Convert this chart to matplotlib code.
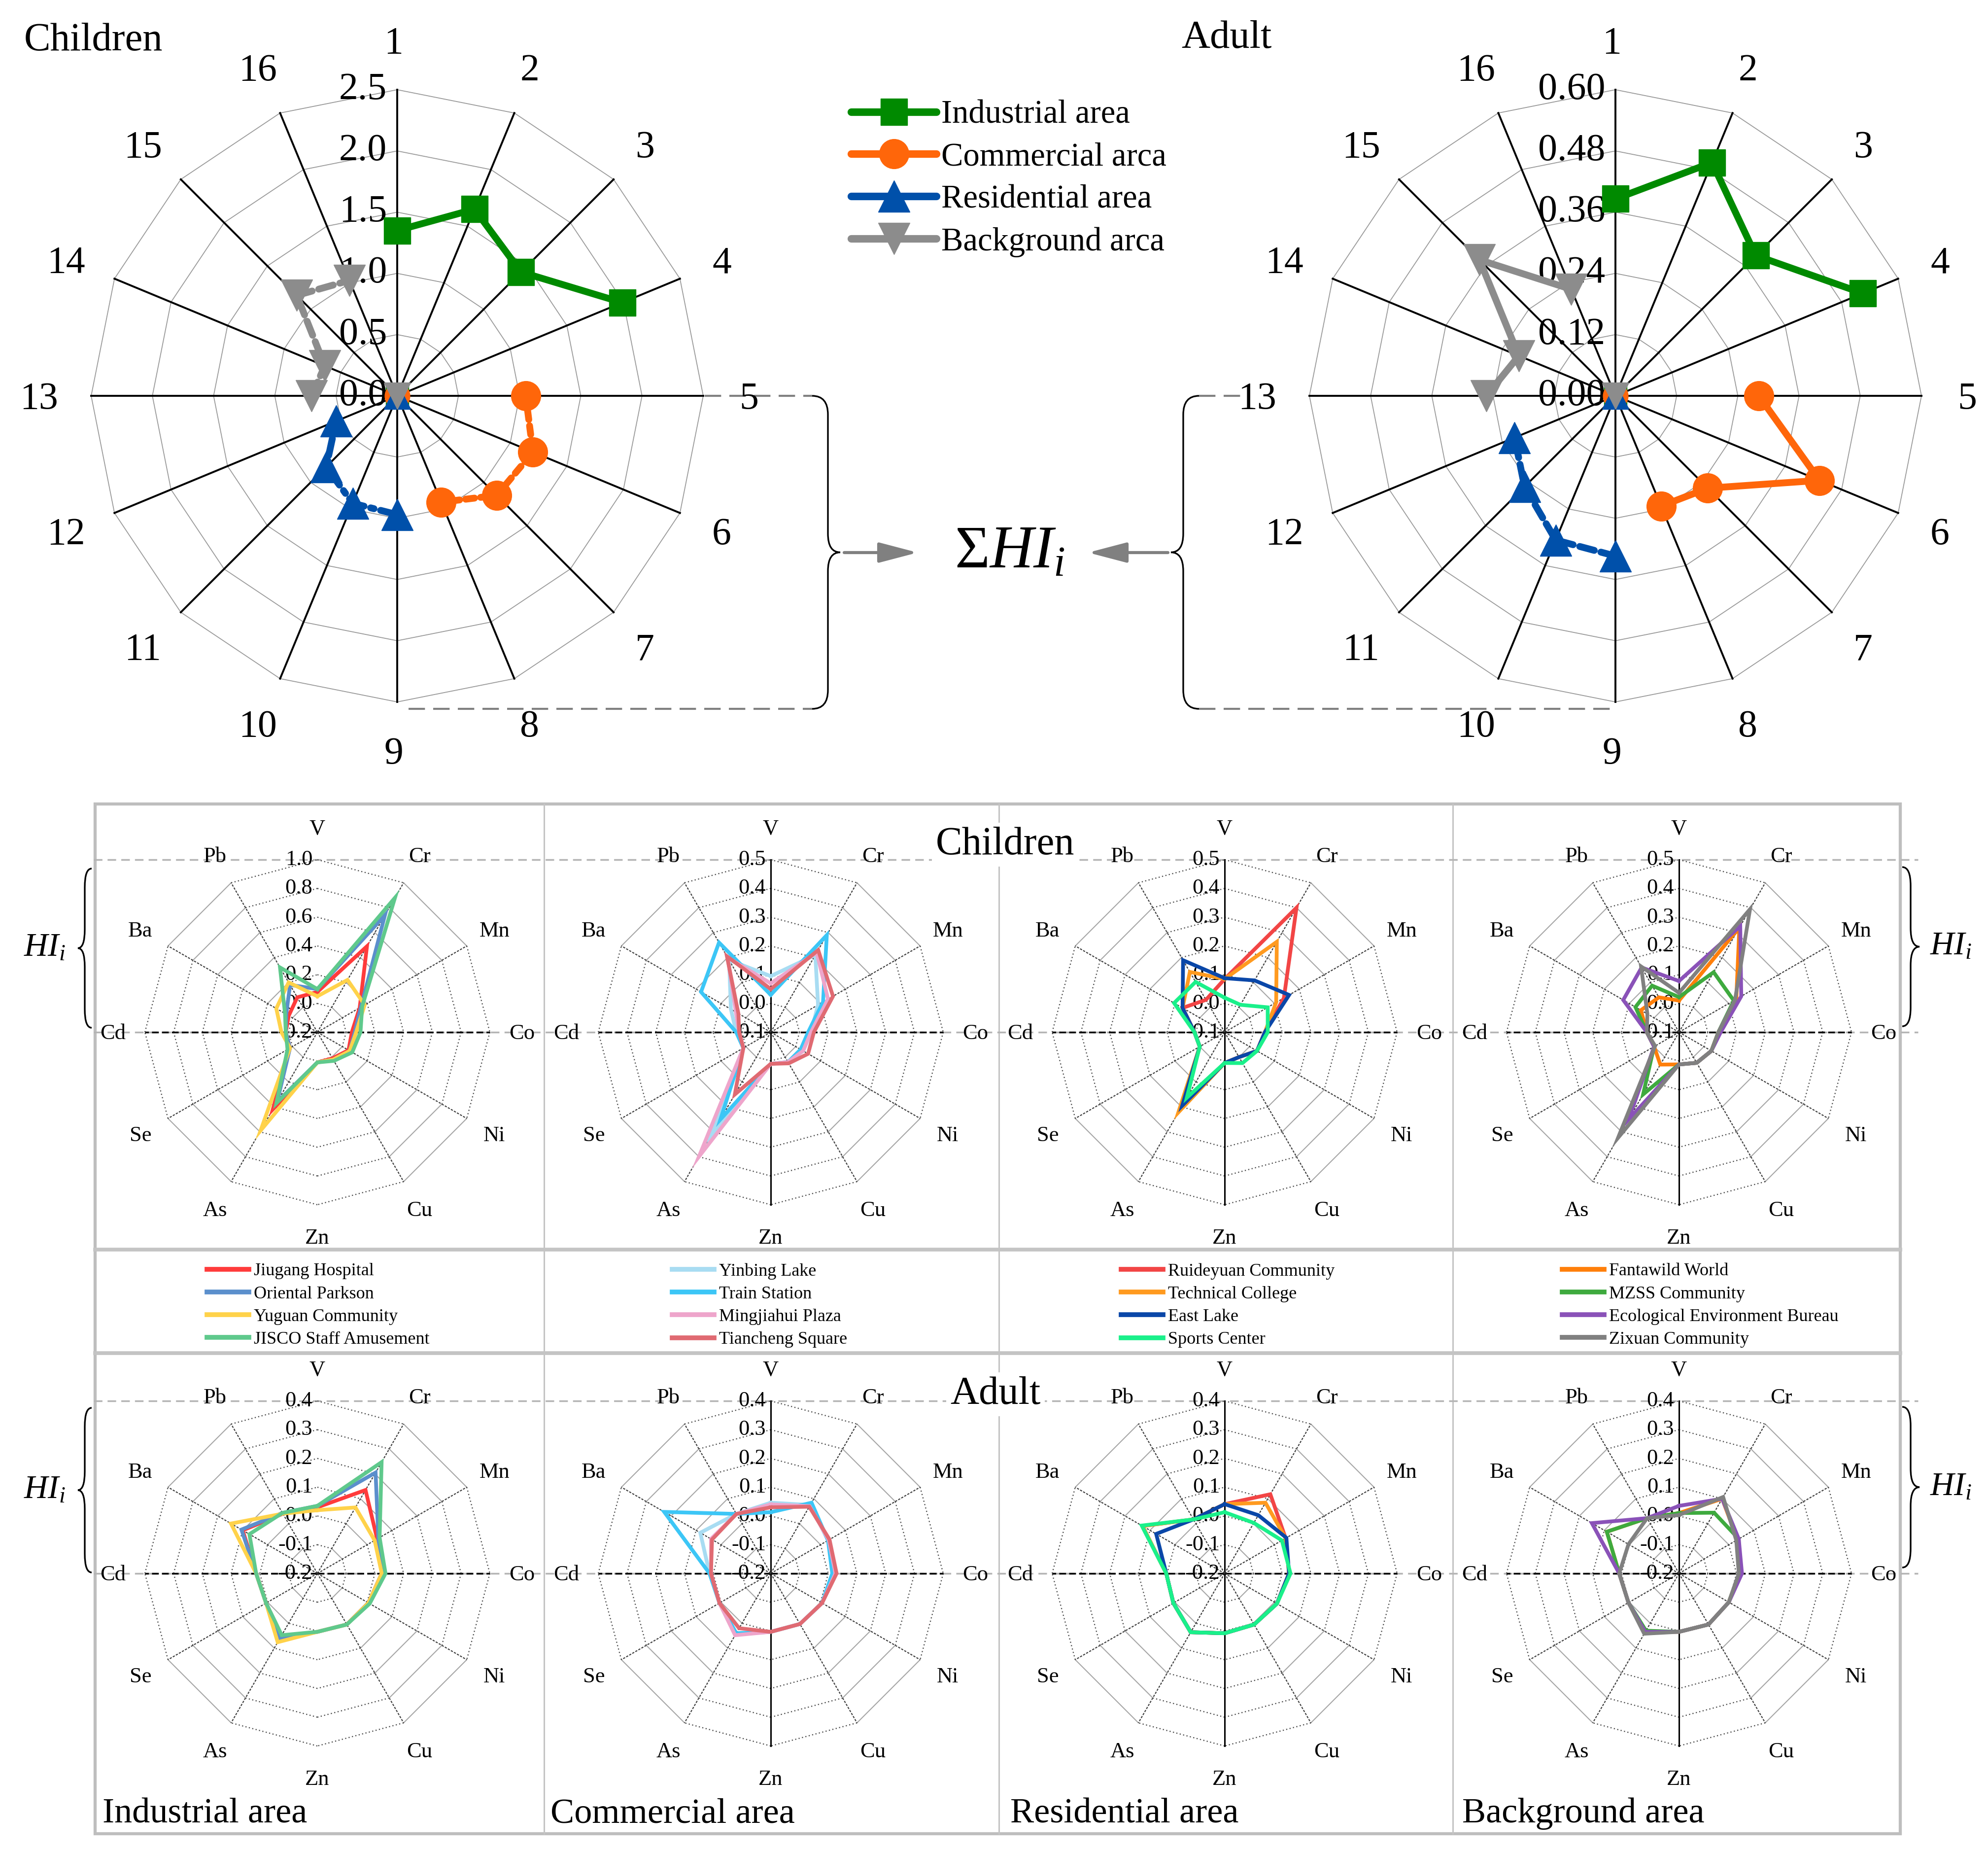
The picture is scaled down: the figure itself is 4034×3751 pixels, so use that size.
import numpy as np
import matplotlib
matplotlib.use('Agg')
import matplotlib.pyplot as plt
from matplotlib.lines import Line2D
from matplotlib.path import Path
from matplotlib.patches import PathPatch, Rectangle

plt.rcParams['font.family'] = ['Liberation Serif', 'DejaVu Serif']
plt.rcParams['mathtext.fontset'] = 'custom'
plt.rcParams['mathtext.rm'] = 'Liberation Serif'
plt.rcParams['mathtext.it'] = 'Liberation Serif:italic'
plt.rcParams['mathtext.bf'] = 'Liberation Serif:bold'

W, H, DPI = 4034, 3751, 100

# ---------------- data ----------------
site_labels = [str(i) for i in range(1, 17)]
area_labels = ['Industrial area', 'Commercial area', 'Residential area', 'Background area']
legend_area_labels = ['Industrial area', 'Commercial arca', 'Residential area', 'Background arca']

children_total_HI = [1.35, 1.65, 1.43, 1.99, 1.05, 1.20, 1.15, 0.94,
                     0.97, 0.95, 0.82, 0.54, 0.70, 0.64, 1.16, 1.02]
adult_total_HI = [0.386, 0.495, 0.389, 0.525, 0.281, 0.433, 0.256, 0.234,
                  0.314, 0.306, 0.252, 0.214, 0.253, 0.205, 0.377, 0.226]
children_ticks = [0.0, 0.5, 1.0, 1.5, 2.0, 2.5]
adult_ticks = [0.00, 0.12, 0.24, 0.36, 0.48, 0.60]

elements = ['V', 'Cr', 'Mn', 'Co', 'Ni', 'Cu', 'Zn', 'As', 'Se', 'Cd', 'Ba', 'Pb']

industrial_sites = ['Jiugang Hospital', 'Oriental Parkson', 'Yuguan Community', 'JISCO Staff Amusement']
commercial_sites = ['Yinbing Lake', 'Train Station', 'Mingjiahui Plaza', 'Tiancheng Square']
residential_sites = ['Ruideyuan Community', 'Technical College', 'East Lake', 'Sports Center']
background_sites = ['Fantawild World', 'MZSS Community', 'Ecological Environment Bureau', 'Zixuan Community']

# children HI_i per element   [V, Cr, Mn, Co, Ni, Cu, Zn, As, Se, Cd, Ba, Pb]
ch_jiugang = [0.08, 0.49, 0.14, 0.04, 0.05, 0.01, 0.01, 0.42, 0.02, 0.02, 0.03, 0.08]
ch_oriental = [0.10, 0.74, 0.15, 0.06, 0.06, 0.02, 0.01, 0.36, 0.02, 0.02, 0.05, 0.18]
ch_yuguan = [0.05, 0.22, 0.18, 0.07, 0.06, 0.02, 0.01, 0.59, 0.02, 0.05, 0.13, 0.20]
ch_jisco = [0.10, 0.88, 0.16, 0.10, 0.08, 0.03, 0.01, 0.37, 0.04, 0.02, 0.06, 0.32]

ch_yinbing = [0.095, 0.21, 0.09, 0.04, 0.03, 0.02, 0.01, 0.31, 0.01, 0.02, 0.06, 0.19]
ch_train = [0.03, 0.29, 0.11, 0.03, 0.02, 0.02, 0.01, 0.25, 0.01, 0.02, 0.18, 0.26]
ch_mingjiahui = [0.07, 0.22, 0.13, 0.04, 0.03, 0.02, 0.01, 0.40, 0.01, 0.01, 0.04, 0.20]
ch_tiancheng = [0.05, 0.23, 0.15, 0.05, 0.05, 0.025, 0.01, 0.15, 0.01, 0.01, 0.03, 0.205]

ch_ruideyuan = [0.085, 0.40, 0.138, 0.04, 0.03, 0.0, 0.007, 0.20, 0.0, 0.005, 0.069, 0.03]
ch_technical = [0.085, 0.263, 0.107, 0.04, 0.03, 0.0, 0.007, 0.222, 0.0, 0.005, 0.069, 0.142]
ch_eastlake = [0.088, 0.108, 0.159, 0.04, 0.03, 0.0, 0.007, 0.195, 0.0, 0.005, 0.069, 0.189]
ch_sports = [0.02, 0.01, 0.073, 0.05, 0.03, 0.024, 0.007, 0.163, 0.0, 0.005, 0.103, 0.102]

ch_fantawild = [0.01, 0.32, 0.13, 0.037, 0.03, 0.023, 0.012, 0.03, 0.0, 0.012, 0.053, 0.04]
ch_mzss = [0.022, 0.141, 0.12, 0.037, 0.03, 0.023, 0.012, 0.15, 0.0, 0.012, 0.075, 0.087]
ch_ecobureau = [0.078, 0.326, 0.15, 0.045, 0.03, 0.023, 0.012, 0.25, 0.0, 0.012, 0.124, 0.16]
ch_zixuan = [0.037, 0.394, 0.125, 0.037, 0.03, 0.023, 0.012, 0.324, -0.004, 0.012, 0.027, 0.164]

# adult HI_i per element
ad_jiugang = [0.03, 0.135, 0.04, 0.024, 0.005, 0.005, 0.003, 0.06, 0.006, 0.013, 0.10, 0.04]
ad_oriental = [0.035, 0.205, 0.045, 0.024, 0.005, 0.005, 0.003, 0.06, 0.006, 0.013, 0.105, 0.043]
ad_yuguan = [0.02, 0.065, 0.03, 0.024, 0.005, 0.005, 0.003, 0.076, 0.006, 0.013, 0.147, 0.04]
ad_jisco = [0.035, 0.247, 0.05, 0.037, 0.01, 0.005, 0.003, 0.048, 0.006, 0.013, 0.073, 0.043]

ad_yinbing = [0.046, 0.075, 0.03, 0.02, 0.006, 0.003, 0.003, 0.045, 0.006, 0.013, 0.083, 0.039]
ad_train = [0.013, 0.084, 0.03, 0.014, 0.006, 0.003, 0.003, 0.04, 0.006, 0.013, 0.228, 0.039]
ad_mingjiahui = [0.04, 0.07, 0.033, 0.025, 0.006, 0.003, 0.003, 0.048, 0.006, 0.008, 0.04, 0.039]
ad_tiancheng = [0.03, 0.068, 0.036, 0.029, 0.006, 0.003, 0.003, 0.02, 0.006, 0.008, 0.036, 0.039]

ad_ruideyuan = [0.041, 0.118, 0.045, 0.024, 0.01, 0.005, 0.008, 0.036, 0.006, 0.003, 0.13, 0.017]
ad_technical = [0.041, 0.084, 0.045, 0.024, 0.01, 0.005, 0.008, 0.036, 0.006, 0.003, 0.13, 0.017]
ad_eastlake = [0.041, 0.034, 0.048, 0.024, 0.01, 0.005, 0.008, 0.036, 0.006, 0.003, 0.075, 0.017]
ad_sports = [0.013, 0.003, 0.03, 0.029, 0.01, 0.005, 0.008, 0.036, 0.006, 0.003, 0.133, 0.017]

ad_fantawild = [0.01, 0.10, 0.035, 0.01, 0.0, 0.005, 0.003, 0.035, 0.003, 0.008, 0.09, 0.022]
ad_mzss = [0.01, 0.044, 0.04, 0.01, 0.0, 0.005, 0.003, 0.03, 0.003, 0.008, 0.09, 0.022]
ad_ecobureau = [0.035, 0.10, 0.04, 0.019, 0.0, 0.005, 0.003, 0.035, 0.003, 0.008, 0.15, 0.022]
ad_zixuan = [0.003, 0.107, 0.03, 0.008, 0.0, 0.005, 0.003, 0.042, 0.003, 0.008, 0.003, 0.022]

# ---------------- styles ----------------
area_colors = ['#008A00', '#FF660A', '#0050AA', '#8C8C8C']
area_markers = ['s', 'o', '^', 'v']
area_ms = [39, 43, 46, 46]
children_ls = ['-', (0, (1.3, 0.9)), (0, (2.5, 1.0, 0.5, 1.0)), (0, (2.2, 1.0))]
adult_ls = ['-', '-', (0, (2.2, 1.0)), '-']

ind_colors = ['#FF3B3B', '#5B8FCC', '#FFD24A', '#5FC98C']
com_colors = ['#A8DCF2', '#3CC6F6', '#EEA5CB', '#E06A72']
res_colors = ['#F24545', '#FF9A1F', '#0A47A8', '#1AF08A']
bg_colors = ['#FF7F0A', '#3EAA3E', '#8A52B8', '#808080']

fig = plt.figure(figsize=(W / DPI, H / DPI), dpi=DPI)
fig.patch.set_facecolor('white')

# overlay axes in pixel coordinates for decorations
ov = fig.add_axes([0, 0, 1, 1])
ov.set_xlim(0, W)
ov.set_ylim(H, 0)
ov.axis('off')


def polar_at(cx, cy, R, rmin, rmax):
    ax = fig.add_axes([(cx - R) / W, 1 - (cy + R) / H, 2 * R / W, 2 * R / H], projection='polar')
    ax.set_theta_zero_location('N')
    ax.set_theta_direction(-1)
    ax.set_ylim(rmin, rmax)
    ax.set_xticks([])
    ax.set_yticks([])
    ax.grid(False)
    ax.spines['polar'].set_visible(False)
    ax.patch.set_visible(False)
    return ax


def brace(x_end, x_sp, x_tip, y0, y1, lw=2.4, color='black'):
    ym = (y0 + y1) / 2.0
    r = min(38, (y1 - y0) / 6.0)
    verts = [(x_end, y0), (x_sp, y0), (x_sp, y0 + r), (x_sp, ym - r),
             (x_sp, ym), (x_tip, ym), (x_sp, ym), (x_sp, ym + r),
             (x_sp, y1 - r), (x_sp, y1), (x_end, y1)]
    codes = [Path.MOVETO, Path.CURVE3, Path.CURVE3, Path.LINETO,
             Path.CURVE3, Path.CURVE3, Path.CURVE3, Path.CURVE3,
             Path.LINETO, Path.CURVE3, Path.CURVE3]
    ov.add_patch(PathPatch(Path(verts, codes), fill=False, lw=lw, edgecolor=color))


# ---------------- top big radars ----------------
R_BIG = 621


def big_radar(cx, cy, values, ticks, fmt, styles):
    rmax = ticks[-1]
    ax = polar_at(cx, cy, R_BIG, 0, rmax)
    n = len(site_labels)
    th = 2 * np.pi * np.arange(n) / n
    thc = np.append(th, 2 * np.pi)
    for lv in ticks[1:]:
        ax.plot(thc, np.full(n + 1, lv), color='#9A9A9A', lw=1.3, clip_on=False, zorder=1)
    for t in th:
        ax.plot([t, t], [0, rmax], color='black', lw=2.8, clip_on=False, zorder=2)
    for i, lab in enumerate(site_labels):
        ax.annotate(lab, xy=(th[i], rmax * 1.16), xytext=(-5, -5), textcoords='offset points',
                    ha='center', va='center', fontsize=56, annotation_clip=False)
    for lv in ticks:
        ax.annotate(fmt % lv, xy=(0, lv), xytext=(-15, 0), textcoords='offset points',
                    ha='right', va='center', fontsize=56, zorder=3, annotation_clip=False)
    vals = np.array(values)
    for g in range(4):
        idx = np.arange(4 * g, 4 * g + 4)
        ax.plot(th[idx], vals[idx], color=area_colors[g], ls=styles[g], lw=10,
                marker=area_markers[g], ms=area_ms[g], mec=area_colors[g],
                dash_capstyle='round', solid_capstyle='round', clip_on=False, zorder=5)
    for g in range(4):
        ax.plot([0], [0], ls='none', marker=area_markers[g], ms=area_ms[g] * 0.85,
                color=area_colors[g], clip_on=False, zorder=6)
    return ax


big_radar(806, 803, children_total_HI, children_ticks, '%.1f', children_ls)
big_radar(3278, 803, adult_total_HI, adult_ticks, '%.2f', adult_ls)

ov.text(49, 102, 'Children', fontsize=58, ha='left', va='baseline')
ov.text(2397, 97, 'Adult', fontsize=58, ha='left', va='baseline')

handles = [Line2D([0], [0], color=area_colors[g], lw=11, marker=area_markers[g],
                  ms=area_ms[g], solid_capstyle='round') for g in range(4)]
fig.legend(handles, legend_area_labels, loc='upper left', bbox_to_anchor=(1727 / W, 1 - 203 / H),
           frameon=False, fontsize=48, handlelength=2.6, handletextpad=0.15,
           labelspacing=0.37, borderpad=0, borderaxespad=0)

# connectors, braces, arrows and the sum label
dash_kw = dict(color='#808080', lw=3, ls=(0, (8, 4)))
ov.plot([1430, 1648], [803, 803], **dash_kw)
ov.plot([829, 1648], [1438, 1438], **dash_kw)
ov.plot([2433, 2525], [803, 803], **dash_kw)
ov.plot([2433, 3280], [1438, 1438], **dash_kw)
brace(1648, 1680, 1705, 803, 1438)
brace(2433, 2401, 2376, 803, 1438)
arrow_kw = dict(arrowstyle='-|>,head_length=1.6,head_width=0.42', color='#808080', lw=4.5,
                mutation_scale=30, shrinkA=0, shrinkB=0)
ov.annotate('', xy=(1862, 1121), xytext=(1713, 1121), arrowprops=arrow_kw)
ov.annotate('', xy=(2208, 1121), xytext=(2370, 1121), arrowprops=arrow_kw)
ov.text(2049, 1121, r'$\Sigma HI_i$', fontsize=88, ha='center', va='center')

# ---------------- bottom panel frame ----------------
BOX_L, BOX_R, BOX_T, BOX_B = 193, 3856, 1631, 3720
SEP_X = [1104, 2027, 2948]
ov.add_patch(Rectangle((BOX_L, BOX_T), BOX_R - BOX_L, BOX_B - BOX_T, fill=False,
                       edgecolor='#BEBEBE', lw=4.5, zorder=1))
for yy in [2535, 2745]:
    ov.plot([BOX_L, BOX_R], [yy, yy], color='#C4C4C4', lw=5.5, zorder=1)
for xx in SEP_X:
    ov.plot([xx, xx], [BOX_T, BOX_B], color='#C4C4C4', lw=2.2, zorder=1)

ref_kw = dict(color='#B4B4B4', lw=2.5, ls=(0, (5, 3)), zorder=1)
for yy in [1744, 2094, 2842, 3192]:
    ov.plot([190, 3892], [yy, yy], **ref_kw)

ov.text(2040, 1733, 'Children', fontsize=58, ha='center', va='baseline', zorder=3,
        bbox=dict(facecolor='white', edgecolor='none', pad=6))
ov.text(2020, 2848, 'Adult', fontsize=58, ha='center', va='baseline', zorder=3,
        bbox=dict(facecolor='white', edgecolor='none', pad=6))

area_label_x = [208, 1117, 2050, 2967]
for x, lab in zip(area_label_x, area_labels):
    ov.text(x, 3697, lab, fontsize=52, ha='left', va='baseline', zorder=3)

brace(186, 172, 158, 1762, 2085)
brace(186, 172, 158, 2856, 3190)
brace(3860, 3877, 3895, 1759, 2082)
brace(3860, 3877, 3895, 2854, 3180)
ov.text(90, 1923, r'$HI_i$', fontsize=48, ha='center', va='center')
ov.text(90, 3023, r'$HI_i$', fontsize=48, ha='center', va='center')
ov.text(3958, 1920, r'$HI_i$', fontsize=48, ha='center', va='center')
ov.text(3958, 3017, r'$HI_i$', fontsize=48, ha='center', va='center')

# ---------------- small element radars ----------------
R_SMALL = 350
SOLID_SEGMENTS = {1, 4, 7, 10}


def small_radar(cx, cy, rmin, rmax, step, series, colors, vertical=True):
    ax = polar_at(cx, cy, R_SMALL, rmin, rmax)
    n = len(elements)
    th = 2 * np.pi * np.arange(n) / n
    levels = np.round(np.arange(rmin + step, rmax + step / 2, step), 2)
    for lv in levels:
        for i in range(n):
            t = [th[i], th[i + 1] if i + 1 < n else 2 * np.pi]
            if i in SOLID_SEGMENTS:
                ax.plot(t, [lv, lv], color='#A6A6A6', lw=1.5, clip_on=False, zorder=1)
            else:
                ax.plot(t, [lv, lv], color='#505050', lw=1.7, ls=(0, (1, 2)), clip_on=False, zorder=1)
    for i in range(n):
        if i in (0, 6):
            if vertical:
                ax.plot([th[i], th[i]], [rmin, rmax], color='black', lw=2.2, clip_on=False, zorder=2)
        elif i in (3, 9):
            ax.plot([th[i], th[i]], [rmin, rmax], color='black', lw=2.5, ls=(0, (4, 1.8)),
                    clip_on=False, zorder=2)
        else:
            ax.plot([th[i], th[i]], [rmin, rmax], color='#404040', lw=1.6, ls=(0, (2, 1.2)),
                    clip_on=False, zorder=2)
    for i, el in enumerate(elements):
        ax.annotate(el, xy=(th[i], rmin + 1.185 * (rmax - rmin)), xytext=(0, -2),
                    textcoords='offset points', ha='center', va='center', fontsize=32,
                    annotation_clip=False)
    for lv in np.concatenate([[rmin], levels]):
        ax.annotate('%.1f' % lv, xy=(0, lv), xytext=(-7, 0), textcoords='offset points',
                    ha='right', va='center', fontsize=32, zorder=3, annotation_clip=False)
    thc = np.append(th, 2 * np.pi)
    for vals, c in zip(series, colors):
        v = np.append(vals, vals[0])
        ax.plot(thc, v, color=c, lw=5.5, solid_joinstyle='miter', clip_on=False, zorder=5)
    return ax


col_x = [644, 1564, 2485, 3407]
children_panels = [
    (-0.2, 1.0, 0.2, [ch_jiugang, ch_oriental, ch_yuguan, ch_jisco], ind_colors, False),
    (-0.1, 0.5, 0.1, [ch_yinbing, ch_train, ch_mingjiahui, ch_tiancheng], com_colors, True),
    (-0.1, 0.5, 0.1, [ch_ruideyuan, ch_technical, ch_eastlake, ch_sports], res_colors, True),
    (-0.1, 0.5, 0.1, [ch_fantawild, ch_mzss, ch_ecobureau, ch_zixuan], bg_colors, True),
]
adult_panels = [
    (-0.2, 0.4, 0.1, [ad_jiugang, ad_oriental, ad_yuguan, ad_jisco], ind_colors, False),
    (-0.2, 0.4, 0.1, [ad_yinbing, ad_train, ad_mingjiahui, ad_tiancheng], com_colors, True),
    (-0.2, 0.4, 0.1, [ad_ruideyuan, ad_technical, ad_eastlake, ad_sports], res_colors, True),
    (-0.2, 0.4, 0.1, [ad_fantawild, ad_mzss, ad_ecobureau, ad_zixuan], bg_colors, True),
]
for x, p in zip(col_x, children_panels):
    small_radar(x, 2094, *p)
for x, p in zip(col_x, adult_panels):
    small_radar(x, 3192, *p)

# legends between the rows
site_groups = [industrial_sites, commercial_sites, residential_sites, background_sites]
group_colors = [ind_colors, com_colors, res_colors, bg_colors]
legend_x = [420, 1364, 2275, 3170]
for x, names, cols in zip(legend_x, site_groups, group_colors):
    hs = [Line2D([0], [0], color=c, lw=7) for c in cols]
    fig.legend(hs, names, loc='upper left', bbox_to_anchor=(x / W, 1 - 2562 / H),
               frameon=False, fontsize=26, handlelength=2.35, handletextpad=0.28,
               labelspacing=0.36, borderpad=0, borderaxespad=0)

fig.savefig('out.png', dpi=DPI, facecolor='white')
